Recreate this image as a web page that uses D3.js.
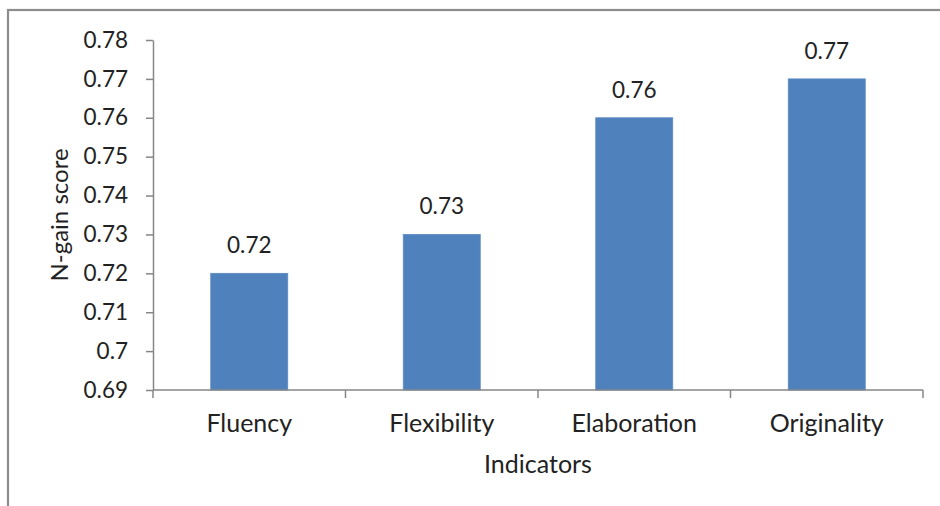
<!DOCTYPE html>
<html>
<head>
<meta charset="utf-8">
<script src="https://cdn.jsdelivr.net/npm/d3@7"></script>
<style>
  html, body { margin: 0; padding: 0; background: #fff; }
  svg { display: block; font-family: Lato, "Open Sans", sans-serif; }
</style>
</head>
<body>
<svg id="chart" width="940" height="506"></svg>
<script>
// N-gain score per creative-thinking indicator
const categories = ["Fluency", "Flexibility", "Elaboration", "Originality"];
const scores = [0.72, 0.73, 0.76, 0.77];
const yTicks = [0.69, 0.70, 0.71, 0.72, 0.73, 0.74, 0.75, 0.76, 0.77, 0.78];
const yTickLabels = ["0.69", "0.7", "0.71", "0.72", "0.73", "0.74", "0.75", "0.76", "0.77", "0.78"];

const svg = d3.select("#chart");
const W = 940, H = 506;
const plot = { left: 153, right: 923, top: 40, bottom: 390 };
const axisColor = "#868686";
const textColor = "#222222";
const barColor = "#4F81BD";
const numSize = 22.5;
const wordSize = 25;

// outer chart frame (extends past the canvas on the right and bottom)
svg.append("rect")
  .attr("x", 8).attr("y", 10)
  .attr("width", W + 20).attr("height", H + 20)
  .attr("fill", "#fff")
  .attr("stroke", "#8c8c8c")
  .attr("stroke-width", 2.2);

const x = d3.scaleBand()
  .domain(categories)
  .range([plot.left, plot.right])
  .paddingInner(0.6)
  .paddingOuter(0.3);

const y = d3.scaleLinear()
  .domain([0.69, 0.78])
  .range([plot.bottom, plot.top]);

// bars
svg.append("g").selectAll("rect")
  .data(categories)
  .join("rect")
  .attr("x", d => x(d))
  .attr("width", x.bandwidth())
  .attr("y", (d, i) => y(scores[i]))
  .attr("height", (d, i) => y(0.69) - y(scores[i]))
  .attr("fill", barColor)
  .attr("stroke", "#5b8ac4")
  .attr("stroke-width", 0.8);

// value labels
svg.append("g").selectAll("text")
  .data(categories)
  .join("text")
  .attr("x", d => x(d) + x.bandwidth() / 2)
  .attr("y", (d, i) => y(scores[i]) - 20)
  .attr("text-anchor", "middle")
  .attr("font-size", numSize)
  .attr("fill", textColor)
  .text((d, i) => scores[i].toFixed(2));

// y axis
const yAxis = d3.axisLeft(y)
  .tickValues(yTicks)
  .tickFormat((d, i) => yTickLabels[i])
  .tickSize(7)
  .tickSizeOuter(0)
  .tickPadding(18);
const gy = svg.append("g")
  .attr("transform", `translate(${plot.left},0)`)
  .call(yAxis);
gy.select(".domain").attr("stroke", axisColor).attr("stroke-width", 1.5);
gy.selectAll(".tick line").attr("stroke", axisColor).attr("stroke-width", 1.5);
gy.selectAll(".tick text")
  .attr("font-size", numSize)
  .attr("font-family", "Lato, 'Open Sans', sans-serif")
  .attr("fill", textColor);
// y axis continues slightly below the x axis
gy.append("line")
  .attr("x1", 0).attr("x2", 0)
  .attr("y1", plot.bottom).attr("y2", plot.bottom + 8)
  .attr("stroke", axisColor).attr("stroke-width", 1.5);

// x axis with ticks on category boundaries
const gx = svg.append("g")
  .attr("transform", `translate(0,${plot.bottom})`);
gx.append("line")
  .attr("x1", plot.left).attr("x2", plot.right)
  .attr("stroke", axisColor).attr("stroke-width", 1.5);
const boundaries = categories.map(c => x(c) - x.step() * x.paddingInner() / 2).slice(1).concat([plot.right]);
gx.selectAll("line.tick")
  .data(boundaries)
  .join("line")
  .attr("class", "tick")
  .attr("x1", d => d).attr("x2", d => d)
  .attr("y1", 0).attr("y2", 8)
  .attr("stroke", axisColor).attr("stroke-width", 1.5);
gx.selectAll("text")
  .data(categories)
  .join("text")
  .attr("x", d => x(d) + x.bandwidth() / 2)
  .attr("y", 42)
  .attr("text-anchor", "middle")
  .attr("font-size", wordSize)
  .attr("fill", textColor)
  .text(d => d);

// axis titles
svg.append("text")
  .attr("x", (plot.left + plot.right) / 2)
  .attr("y", 473)
  .attr("text-anchor", "middle")
  .attr("font-size", wordSize)
  .attr("fill", textColor)
  .text("Indicators");

svg.append("text")
  .attr("transform", `translate(68,${(plot.top + plot.bottom) / 2}) rotate(-90)`)
  .attr("text-anchor", "middle")
  .attr("font-size", 24)
  .attr("fill", textColor)
  .text("N-gain score");
</script>
</body>
</html>
